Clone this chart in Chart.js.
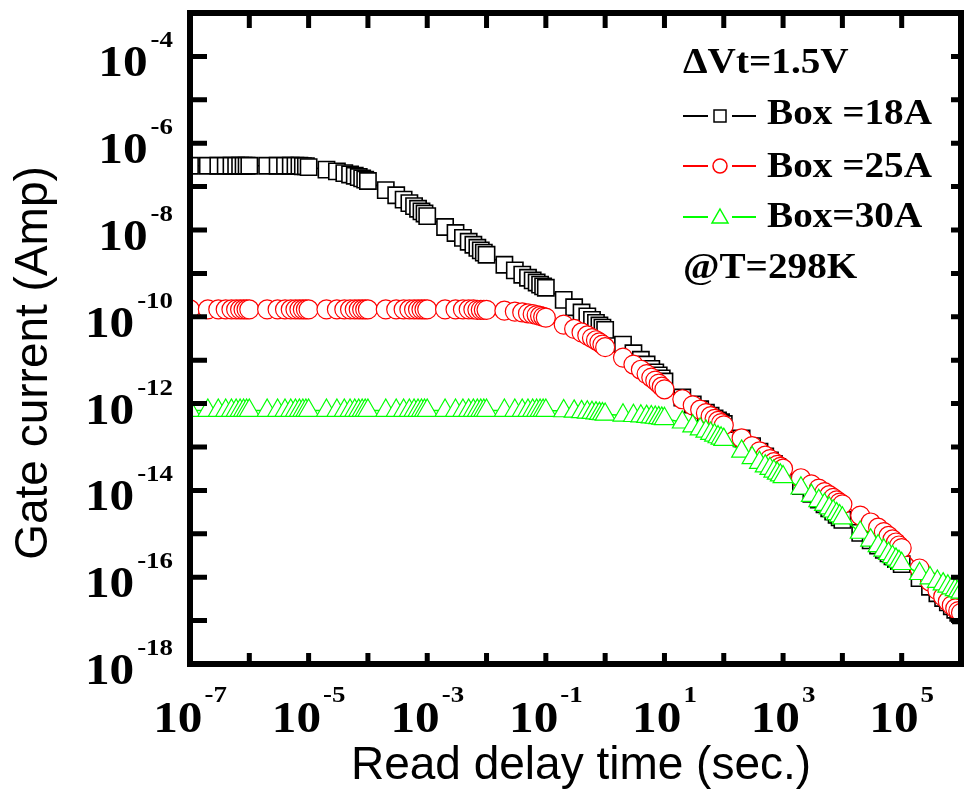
<!DOCTYPE html>
<html>
<head>
<meta charset="utf-8">
<script src="https://cdn.jsdelivr.net/npm/chart.js@4.4.0/dist/chart.umd.min.js"></script>
<style>
  html, body { margin: 0; padding: 0; background: #fff; }
  #wrap { width: 966px; height: 805px; }
</style>
</head>
<body>
<div id="wrap"><canvas id="gateChart" width="966" height="805"></canvas></div>
<script>
// read delay time (sec.), 1..9 per decade
const readDelay = [
  1e-7, 2e-7, 3e-7, 4e-7, 5e-7, 6e-7, 7e-7, 8e-7, 9e-7,
  1e-6, 2e-6, 3e-6, 4e-6, 5e-6, 6e-6, 7e-6, 8e-6, 9e-6,
  1e-5, 2e-5, 3e-5, 4e-5, 5e-5, 6e-5, 7e-5, 8e-5, 9e-5,
  1e-4, 2e-4, 3e-4, 4e-4, 5e-4, 6e-4, 7e-4, 8e-4, 9e-4,
  1e-3, 2e-3, 3e-3, 4e-3, 5e-3, 6e-3, 7e-3, 8e-3, 9e-3,
  0.01, 0.02, 0.03, 0.04, 0.05, 0.06, 0.07, 0.08, 0.09,
  0.1, 0.2, 0.3, 0.4, 0.5, 0.6, 0.7, 0.8, 0.9,
  1, 2, 3, 4, 5, 6, 7, 8, 9,
  10, 20, 30, 40, 50, 60, 70, 80, 90,
  100, 200, 300, 400, 500, 600, 700, 800, 900,
  1e3, 2e3, 3e3, 4e3, 5e3, 6e3, 7e3, 8e3, 9e3,
  1e4, 2e4, 3e4, 4e4, 5e4, 6e4, 7e4, 8e4, 9e4,
  1e5, 2e5, 3e5, 4e5, 5e5, 6e5, 7e5, 8e5, 9e5,
  1e6
];

// gate current, stored as log10(Amp)
const box18Exp = [
  -6.52, -6.52, -6.52, -6.52, -6.52, -6.52, -6.52, -6.52, -6.52,
  -6.52, -6.52, -6.52, -6.52, -6.52, -6.52, -6.52, -6.53, -6.53,
  -6.55, -6.61, -6.65, -6.69, -6.72, -6.75, -6.78, -6.81, -6.84,
  -6.87, -7.08, -7.20, -7.30, -7.38, -7.45, -7.51, -7.57, -7.62,
  -7.68, -7.93, -8.07, -8.18, -8.27, -8.34, -8.41, -8.47, -8.52,
  -8.57, -8.80, -8.93, -9.03, -9.10, -9.16, -9.21, -9.26, -9.30,
  -9.33, -9.61, -9.78, -9.90, -9.99, -10.07, -10.14, -10.20, -10.25,
  -10.30, -10.64, -10.84, -10.99, -11.10, -11.20, -11.28, -11.35, -11.42,
  -11.49, -11.86, -12.02, -12.13, -12.21, -12.28, -12.34, -12.39, -12.43,
  -12.47, -12.80, -12.98, -13.11, -13.22, -13.31, -13.39, -13.46, -13.53,
  -13.60, -13.90, -14.08, -14.21, -14.32, -14.41, -14.49, -14.56, -14.62,
  -14.68, -14.98, -15.15, -15.27, -15.37, -15.45, -15.52, -15.58, -15.63,
  -15.70, -16.02, -16.22, -16.37, -16.48, -16.58, -16.67, -16.75, -16.82,
  -16.88
];
const box25Exp = [
  -9.83, -9.83, -9.83, -9.83, -9.83, -9.83, -9.83, -9.83, -9.83,
  -9.83, -9.83, -9.83, -9.83, -9.83, -9.83, -9.83, -9.83, -9.83,
  -9.83, -9.83, -9.83, -9.83, -9.83, -9.83, -9.83, -9.83, -9.83,
  -9.83, -9.83, -9.83, -9.83, -9.83, -9.83, -9.83, -9.83, -9.83,
  -9.83, -9.83, -9.83, -9.83, -9.83, -9.83, -9.84, -9.84, -9.84,
  -9.84, -9.86, -9.88, -9.90, -9.92, -9.94, -9.96, -9.98, -10.00,
  -10.02, -10.18, -10.28, -10.36, -10.43, -10.49, -10.54, -10.59, -10.64,
  -10.70, -10.94, -11.10, -11.22, -11.32, -11.40, -11.47, -11.54, -11.61,
  -11.67, -11.90, -12.04, -12.14, -12.22, -12.29, -12.35, -12.40, -12.45,
  -12.50, -12.80, -12.98, -13.10, -13.20, -13.28, -13.35, -13.41, -13.46,
  -13.50, -13.72, -13.86, -13.96, -14.04, -14.11, -14.17, -14.23, -14.28,
  -14.32, -14.58, -14.74, -14.86, -14.96, -15.05, -15.13, -15.20, -15.27,
  -15.33, -15.80, -16.10, -16.30, -16.45, -16.56, -16.65, -16.72, -16.78,
  -16.82
];
const box30Exp = [
  -12.16, -12.16, -12.16, -12.16, -12.16, -12.16, -12.16, -12.16, -12.16,
  -12.16, -12.16, -12.16, -12.16, -12.16, -12.16, -12.16, -12.16, -12.16,
  -12.16, -12.16, -12.16, -12.16, -12.16, -12.16, -12.16, -12.16, -12.16,
  -12.16, -12.16, -12.16, -12.16, -12.16, -12.16, -12.16, -12.16, -12.16,
  -12.16, -12.16, -12.16, -12.16, -12.16, -12.16, -12.16, -12.16, -12.16,
  -12.16, -12.16, -12.16, -12.16, -12.16, -12.16, -12.16, -12.16, -12.16,
  -12.16, -12.17, -12.18, -12.19, -12.20, -12.21, -12.22, -12.23, -12.24,
  -12.25, -12.27, -12.28, -12.29, -12.30, -12.31, -12.32, -12.33, -12.34,
  -12.35, -12.43, -12.52, -12.59, -12.64, -12.69, -12.73, -12.77, -12.80,
  -12.83, -13.10, -13.25, -13.36, -13.44, -13.50, -13.56, -13.61, -13.65,
  -13.69, -13.95, -14.12, -14.24, -14.33, -14.41, -14.48, -14.54, -14.59,
  -14.64, -14.97, -15.15, -15.28, -15.38, -15.46, -15.53, -15.59, -15.64,
  -15.69, -15.92, -16.02, -16.10, -16.16, -16.21, -16.25, -16.29, -16.32,
  -16.35
];

const seriesLabels = ['Box =18A', 'Box =25A', 'Box=30A'];
const seriesColors = ['#000000', '#ff0000', '#00ff00'];
const seriesStyles = ['rect', 'circle', 'triangle'];
const legendHeader = '\u0394Vt=1.5V';
const legendFooter = '@T=298K';

// axis decades (powers of ten) and the ones that get a label
const xTickExps = [-7, -6, -5, -4, -3, -2, -1, 0, 1, 2, 3, 4, 5, 6];
const xLabelExps = [-7, -5, -3, -1, 1, 3, 5];
const yTickExps = [-18, -17, -16, -15, -14, -13, -12, -11, -10, -9, -8, -7, -6, -5, -4, -3];
const yLabelExps = [-18, -16, -14, -12, -10, -8, -6, -4];

const xTitle = 'Read delay time (sec.)';
const yTitle = 'Gate current (Amp)';

const SERIF = '"Liberation Serif", "Times New Roman", serif';
const SANS = '"Liberation Sans", Arial, sans-serif';
const SX = 1.12; // the original lettering is a bit wide

function toPoints(exps) {
  return readDelay.map((t, i) => ({ x: t, y: Math.pow(10, exps[i]) }));
}

function wideText(ctx, txt, x, y, font) {
  ctx.save();
  ctx.font = font;
  ctx.translate(x, y);
  ctx.scale(SX, 1);
  ctx.textAlign = 'left';
  ctx.textBaseline = 'alphabetic';
  ctx.fillText(txt, 0, 0);
  ctx.restore();
}

function wideWidth(ctx, txt, font) {
  ctx.save();
  ctx.font = font;
  const w = ctx.measureText(txt).width * SX;
  ctx.restore();
  return w;
}

function marker(ctx, style, x, y, color) {
  ctx.save();
  ctx.strokeStyle = color;
  ctx.fillStyle = '#fff';
  ctx.lineWidth = 1.5;
  ctx.beginPath();
  if (style === 'rect') {
    ctx.rect(x - 6, y - 6, 12, 12);
  } else if (style === 'circle') {
    ctx.arc(x, y, 7, 0, Math.PI * 2);
  } else {
    ctx.moveTo(x, y - 8);
    ctx.lineTo(x + 8, y + 6);
    ctx.lineTo(x - 8, y + 6);
    ctx.closePath();
  }
  ctx.fill();
  ctx.stroke();
  ctx.restore();
}

const BASE_FONT = 'bold 44px ' + SERIF;
const EXP_FONT = 'bold 24px ' + SERIF;

const framePlugin = {
  id: 'framePlugin',
  afterDraw(chart) {
    const ctx = chart.ctx;
    const a = chart.chartArea;
    const xs = chart.scales.x;
    const ys = chart.scales.y;

    ctx.save();
    ctx.fillStyle = '#000';
    ctx.strokeStyle = '#000';

    // frame
    ctx.lineWidth = 6;
    ctx.strokeRect(a.left, a.top, a.right - a.left, a.bottom - a.top);

    // inward ticks, every decade, on all four sides
    ctx.lineWidth = 5;
    ctx.beginPath();
    xTickExps.forEach(e => {
      const px = xs.getPixelForValue(Math.pow(10, e));
      if (px <= a.left + 2 || px >= a.right - 2) return;
      ctx.moveTo(px, a.bottom); ctx.lineTo(px, a.bottom - 11);
      ctx.moveTo(px, a.top); ctx.lineTo(px, a.top + 15);
    });
    yTickExps.forEach(e => {
      const py = ys.getPixelForValue(Math.pow(10, e));
      if (py <= a.top + 2 || py >= a.bottom - 2) return;
      ctx.moveTo(a.left, py); ctx.lineTo(a.left + 17, py);
      ctx.moveTo(a.right, py); ctx.lineTo(a.right - 10, py);
    });
    ctx.stroke();

    // x tick labels: 10 with superscript exponent, centred on the tick
    xLabelExps.forEach(e => {
      const px = xs.getPixelForValue(Math.pow(10, e));
      const es = String(e);
      const wb = wideWidth(ctx, '10', BASE_FONT);
      const we = wideWidth(ctx, es, EXP_FONT);
      const left = px - (wb + 2 + we) / 2;
      wideText(ctx, '10', left, a.bottom + 68, BASE_FONT);
      wideText(ctx, es, left + wb + 2, a.bottom + 38, EXP_FONT);
    });

    // y tick labels, right aligned against the axis
    yLabelExps.forEach(e => {
      const py = ys.getPixelForValue(Math.pow(10, e));
      const es = String(e);
      const wb = wideWidth(ctx, '10', BASE_FONT);
      const we = wideWidth(ctx, es, EXP_FONT);
      const expX = 173 - we;
      wideText(ctx, es, expX, py - 9, EXP_FONT);
      wideText(ctx, '10', expX - 3 - wb, py + 20, BASE_FONT);
    });

    // axis titles
    ctx.font = '46px ' + SANS;
    ctx.textAlign = 'center';
    ctx.textBaseline = 'alphabetic';
    ctx.fillText(xTitle, 581, 779);
    ctx.save();
    ctx.translate(47, 363);
    ctx.rotate(-Math.PI / 2);
    ctx.fillText(yTitle, 0, 0);
    ctx.restore();

    // legend block
    const LEG_FONT = 'bold 35px ' + SERIF;
    wideText(ctx, legendHeader, 683, 73, LEG_FONT);
    const rowLine = [116, 166, 217];
    const rowText = [124, 177, 227];
    seriesLabels.forEach((lab, i) => {
      ctx.save();
      ctx.strokeStyle = seriesColors[i];
      ctx.lineWidth = 2;
      ctx.beginPath();
      ctx.moveTo(683, rowLine[i]); ctx.lineTo(708, rowLine[i]);
      ctx.moveTo(732, rowLine[i]); ctx.lineTo(756, rowLine[i]);
      ctx.stroke();
      ctx.restore();
      marker(ctx, seriesStyles[i], 720, rowLine[i], seriesColors[i]);
      ctx.fillStyle = '#000';
      wideText(ctx, lab, 767, rowText[i], LEG_FONT);
    });
    wideText(ctx, legendFooter, 683, 278, LEG_FONT);

    ctx.restore();
  }
};

const exps = [box18Exp, box25Exp, box30Exp];
const radii = [11.5, 9.5, 11.5];

const hiddenAxis = {
  type: 'logarithmic',
  ticks: { display: false },
  grid: { display: false, drawTicks: false },
  border: { display: false },
  title: { display: false }
};

new Chart(document.getElementById('gateChart'), {
  type: 'line',
  data: {
    datasets: seriesLabels.map((lab, i) => ({
      label: lab,
      data: toPoints(exps[i]),
      borderColor: seriesColors[i],
      borderWidth: 1.5,
      pointStyle: seriesStyles[i],
      pointRadius: radii[i],
      pointBorderWidth: i === 0 ? 1.6 : 1.2,
      pointBorderColor: seriesColors[i],
      pointBackgroundColor: '#ffffff',
      tension: 0,
      fill: false,
      order: 3 - i
    }))
  },
  options: {
    responsive: false,
    animation: false,
    events: [],
    layout: { autoPadding: false, padding: { left: 190, top: 13, right: 5, bottom: 141 } },
    scales: {
      x: Object.assign({}, hiddenAxis, { min: 1e-7, max: 1e6 }),
      y: Object.assign({}, hiddenAxis, { min: 1e-18, max: 1e-3 })
    },
    plugins: {
      legend: { display: false },
      tooltip: { enabled: false }
    }
  },
  plugins: [framePlugin]
});
</script>
</body>
</html>
